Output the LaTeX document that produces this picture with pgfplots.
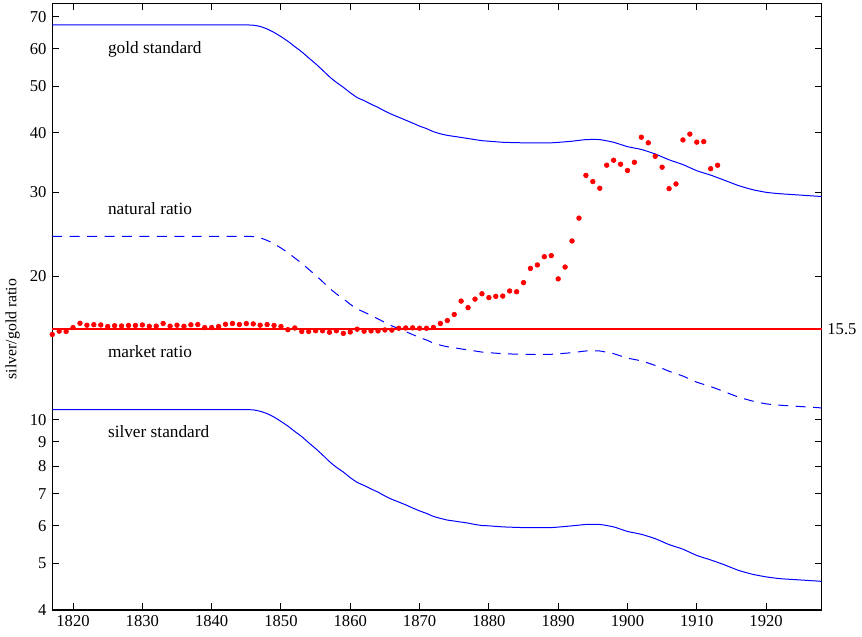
\documentclass[border=0pt]{standalone}
\usepackage{fontspec}
\setmainfont{Liberation Serif}
\usepackage{pgfplots}
\pgfplotsset{compat=1.18}
\definecolor{pureRed}{RGB}{255,0,0}
\definecolor{pureBlue}{RGB}{0,0,255}
\pgfplotstableread{
year gold silver natural
1817 67.3 10.51 24.26
1825 67.3 10.51 24.26
1835 67.3 10.51 24.26
1840 67.3 10.51 24.26
1843 67.3 10.51 24.26
1845 67.3 10.51 24.26
1846 67.2 10.50 24.23
1847 66.8 10.43 24.08
1848 66.0 10.31 23.79
1849 64.9 10.14 23.40
1850 63.6 9.93 22.93
1851 62.2 9.71 22.42
1852 60.6 9.46 21.85
1853 59.1 9.23 21.30
1854 57.4 8.96 20.69
1855 55.8 8.71 20.11
1856 54.1 8.45 19.50
1857 52.4 8.18 18.89
1858 51.0 7.96 18.38
1859 49.8 7.78 17.95
1860 48.5 7.57 17.48
1861 47.4 7.40 17.09
1862 46.7 7.29 16.83
1863 45.9 7.17 16.55
1864 45.2 7.06 16.29
1865 44.4 6.93 16.01
1866 43.7 6.82 15.75
1867 43.1 6.73 15.54
1868 42.5 6.64 15.32
1869 41.9 6.54 15.10
1870 41.3 6.45 14.89
1871 40.8 6.37 14.71
1872 40.2 6.28 14.49
1873 39.8 6.22 14.35
1874 39.5 6.17 14.24
1875 39.3 6.14 14.17
1876 39.1 6.11 14.09
1877 38.9 6.08 14.02
1878 38.7 6.04 13.95
1879 38.5 6.01 13.88
1880 38.4 6.00 13.84
1882 38.2 5.97 13.77
1885 38.1 5.95 13.73
1889 38.1 5.95 13.73
1892 38.4 6.00 13.84
1894 38.7 6.04 13.95
1896 38.7 6.04 13.95
1898 38.2 5.97 13.77
1900 37.4 5.84 13.48
1902 36.9 5.76 13.30
1904 36.1 5.64 13.01
1906 35.1 5.48 12.65
1908 34.3 5.36 12.36
1910 33.3 5.20 12.00
1912 32.6 5.09 11.75
1914 31.8 4.97 11.46
1916 31.0 4.84 11.17
1918 30.4 4.75 10.96
1920 30.0 4.69 10.81
1922 29.8 4.65 10.74
1925 29.6 4.62 10.67
1928 29.4 4.59 10.60
}\curves
\pgfplotstableread{
year ratio
1817 15.11
1818 15.35
1819 15.33
1820 15.62
1821 15.95
1822 15.80
1823 15.84
1824 15.82
1825 15.70
1826 15.76
1827 15.74
1828 15.78
1829 15.78
1830 15.82
1831 15.72
1832 15.73
1833 15.93
1834 15.73
1835 15.80
1836 15.72
1837 15.83
1838 15.85
1839 15.62
1840 15.62
1841 15.70
1842 15.87
1843 15.93
1844 15.85
1845 15.92
1846 15.90
1847 15.80
1848 15.85
1849 15.78
1850 15.70
1851 15.46
1852 15.59
1853 15.33
1854 15.33
1855 15.38
1856 15.38
1857 15.27
1858 15.38
1859 15.19
1860 15.29
1861 15.50
1862 15.35
1863 15.37
1864 15.37
1865 15.44
1866 15.43
1867 15.57
1868 15.59
1869 15.60
1870 15.57
1871 15.57
1872 15.63
1873 15.93
1874 16.16
1875 16.64
1876 17.75
1877 17.20
1878 17.92
1879 18.39
1880 18.05
1881 18.16
1882 18.19
1883 18.64
1884 18.57
1885 19.41
1886 20.78
1887 21.13
1888 21.99
1889 22.10
1890 19.76
1891 20.92
1892 23.72
1893 26.49
1894 32.56
1895 31.60
1896 30.59
1897 34.20
1898 35.03
1899 34.36
1900 33.33
1901 34.68
1902 39.15
1903 38.10
1904 35.70
1905 33.87
1906 30.54
1907 31.24
1908 38.64
1909 39.74
1910 38.22
1911 38.33
1912 33.62
1913 34.19
}\market
\pgfplotstableread{
year level
1817 15.5
1928 15.5
}\parity
\begin{document}
\begin{tikzpicture}
\path (-31pt,-16.2pt) rectangle (486.2pt,367.2pt);
\begin{axis}[
  at={(0,0)}, anchor=south west,
  scale only axis, width=463.2pt, height=365.2pt,
  ymode=log, xmin=1817, xmax=1928, ymin=4, ymax=74.7,
  xtick={1820,1830,...,1920},
  ytick={4,5,6,7,8,9,10,20,30,40,50,60,70},
  yticklabels={4,5,6,7,8,9,10,20,30,40,50,60,70},
  yminorticks=false, xminorticks=false,
  /pgf/number format/1000 sep={},
  /pgf/number format/assume math mode=true,
  tick label style={font=\fontsize{10}{12}\selectfont},
  major tick length=4pt,
  tick style={black, line width=0.6pt},
  axis line style={line width=0.8pt},
  clip=false,
]
\addplot[pureBlue, line width=0.6pt, smooth, tension=0.3] table[x=year, y=gold] {\curves};
\addplot[pureBlue, line width=0.6pt, smooth, tension=0.3] table[x=year, y=silver] {\curves};
\addplot[pureBlue, line width=0.6pt, smooth, tension=0.3, dash pattern=on 6pt off 4.5pt] table[x=year, y=natural] {\curves};
\addplot[draw=pureRed, line width=0.9pt, mark=none] table[x=year, y=level] {\parity};
\addplot[only marks, mark=*, mark size=1.4pt, mark options={draw=pureRed, fill=pureRed}] table[x=year, y=ratio] {\market};
\node[anchor=west, inner sep=0pt, font=\fontsize{10.4}{12}\selectfont] at (axis cs:1825,59.9) {gold standard};
\node[anchor=west, inner sep=0pt, font=\fontsize{10.4}{12}\selectfont] at (axis cs:1825,27.8) {natural ratio};
\node[anchor=west, inner sep=0pt, font=\fontsize{10.4}{12}\selectfont] at (axis cs:1825,13.9) {market ratio};
\node[anchor=west, inner sep=0pt, font=\fontsize{10.4}{12}\selectfont] at (axis cs:1825,9.46) {silver standard};
\node[anchor=west, font=\fontsize{10}{12}\selectfont] at (axis cs:1928,15.5) {15.5};
\node[rotate=90, font=\fontsize{9.5}{12}\selectfont] at (axis description cs:-0.0514,0.463) {silver/gold ratio};
\end{axis}
\end{tikzpicture}
\end{document}
